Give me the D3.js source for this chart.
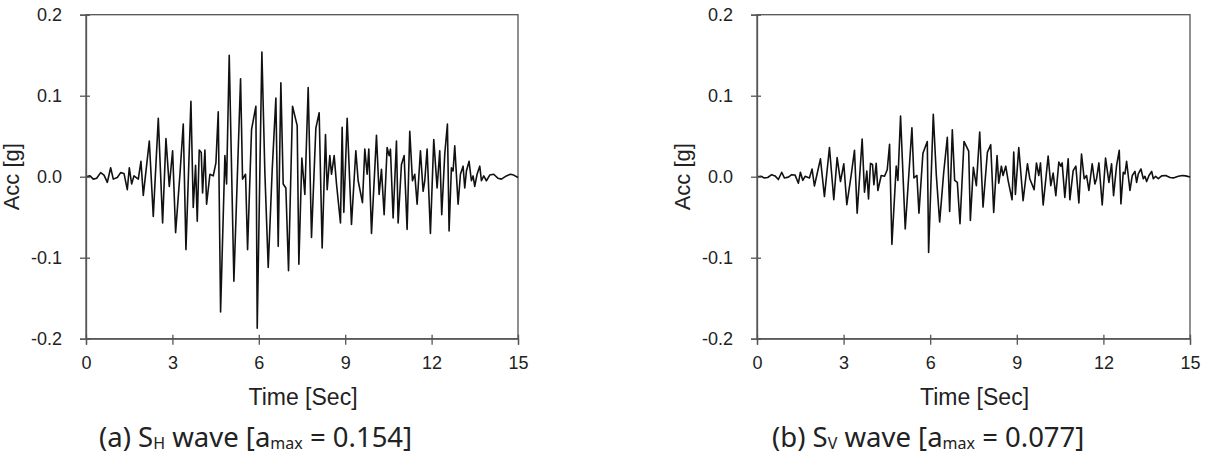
<!DOCTYPE html>
<html><head><meta charset="utf-8">
<script src="https://cdn.jsdelivr.net/npm/d3@7"></script>
<style>body{margin:0;background:#fff}svg{display:block}</style>
</head><body><svg id="c" width="1206" height="466"></svg>
<script>
const xTicks = [0, 3, 6, 9, 12, 15];
const yTicks = [-0.2, -0.1, 0.0, 0.1, 0.2];
const timeSH = [0.00,0.139,0.254,0.370,0.509,0.625,0.740,0.856,0.948,1.087,1.203,1.319,1.434,1.504,1.585,1.666,1.816,1.908,1.989,2.198,2.336,2.510,2.660,2.776,2.892,3.007,3.111,3.262,3.377,3.470,3.643,3.724,3.805,3.863,3.932,4.002,4.048,4.129,4.187,4.303,4.418,4.511,4.592,4.673,4.823,4.881,4.973,5.135,5.367,5.436,5.540,5.610,5.748,5.899,5.945,6.107,6.211,6.327,6.466,6.593,6.674,6.766,6.847,6.940,7.032,7.171,7.333,7.391,7.495,7.599,7.715,7.830,7.981,8.096,8.200,8.316,8.374,8.466,8.524,8.617,8.698,8.836,8.894,8.952,9.068,9.218,9.369,9.450,9.600,9.681,9.762,9.820,9.913,10.086,10.178,10.259,10.352,10.456,10.525,10.571,10.664,10.780,10.838,10.953,11.046,11.150,11.242,11.335,11.416,11.497,11.612,11.705,11.763,11.844,11.959,12.075,12.191,12.283,12.352,12.457,12.549,12.607,12.688,12.746,12.804,12.920,13.001,13.093,13.151,13.209,13.301,13.382,13.440,13.498,13.579,13.672,13.730,13.811,13.903,14.019,14.157,14.308,14.423,14.597,14.735,14.851,15.000];
const accSH = [0.000,0.001,-0.003,-0.002,0.005,0.002,-0.007,0.011,-0.003,-0.001,0.005,0.004,-0.016,0.011,-0.009,0.001,-0.003,0.019,-0.023,0.044,-0.049,0.072,-0.057,0.047,-0.012,0.032,-0.069,0.003,0.065,-0.090,0.093,-0.038,0.014,-0.055,0.033,0.030,-0.020,0.033,-0.034,0.003,0.001,0.017,0.080,-0.167,0.026,-0.009,0.150,-0.129,0.121,-0.003,0.003,-0.090,0.058,0.087,-0.187,0.154,0.005,-0.112,0.009,0.097,-0.086,0.116,-0.009,-0.014,-0.116,0.087,0.063,-0.108,0.023,-0.022,0.110,-0.075,0.060,0.079,-0.088,0.052,-0.016,0.026,0.003,0.026,-0.009,-0.057,0.061,-0.044,0.072,-0.059,0.032,-0.005,-0.032,0.034,0.003,0.034,-0.070,0.051,-0.022,0.009,-0.047,0.036,0.026,0.034,-0.051,0.044,-0.057,0.015,0.026,-0.065,0.056,-0.005,0.003,-0.034,0.032,-0.018,-0.005,0.034,-0.070,0.046,-0.014,0.032,-0.047,0.028,0.065,-0.067,0.011,0.007,0.038,-0.034,0.003,0.013,-0.014,0.007,0.019,-0.005,0.001,-0.012,0.003,0.013,-0.005,0.001,-0.005,0.002,0.003,-0.002,-0.003,0.001,0.003,0.002,-0.001];
const timeSV = timeSH;
const accSV = [0.0000,0.0005,-0.0015,-0.0010,0.0025,0.0010,-0.0035,0.0055,-0.0015,-0.0005,0.0025,0.0020,-0.0080,0.0055,-0.0045,0.0005,-0.0015,0.0095,-0.0115,0.0220,-0.0245,0.0360,-0.0285,0.0235,-0.0060,0.0160,-0.0345,0.0015,0.0325,-0.0450,0.0465,-0.0190,0.0070,-0.0275,0.0165,0.0150,-0.0100,0.0165,-0.0170,0.0015,0.0005,0.0085,0.0400,-0.0835,0.0130,-0.0045,0.0750,-0.0645,0.0605,-0.0015,0.0015,-0.0450,0.0290,0.0435,-0.0935,0.0770,0.0025,-0.0560,0.0045,0.0485,-0.0430,0.0580,-0.0045,-0.0070,-0.0580,0.0435,0.0315,-0.0540,0.0115,-0.0110,0.0550,-0.0375,0.0300,0.0395,-0.0440,0.0260,-0.0080,0.0130,0.0015,0.0130,-0.0045,-0.0285,0.0305,-0.0220,0.0360,-0.0295,0.0160,-0.0025,-0.0160,0.0170,0.0015,0.0170,-0.0350,0.0255,-0.0110,0.0045,-0.0235,0.0180,0.0130,0.0170,-0.0255,0.0220,-0.0285,0.0075,0.0130,-0.0325,0.0280,-0.0025,0.0015,-0.0170,0.0160,-0.0090,-0.0025,0.0170,-0.0350,0.0230,-0.0070,0.0160,-0.0235,0.0140,0.0325,-0.0335,0.0055,0.0035,0.0190,-0.0170,0.0015,0.0065,-0.0070,0.0035,0.0095,-0.0025,0.0005,-0.0060,0.0015,0.0065,-0.0025,0.0005,-0.0025,0.0010,0.0015,-0.0010,-0.0015,0.0005,0.0015,0.0010,-0.0005];
const xTitle = "Time [Sec]";
const yTitle = "Acc [g]";

const svg = d3.select("#c");
const plotTop = 14.7, plotBottom = 338.7;
const panels = [
  {x0: 86, x1: 518, t: timeSH, a: accSH, letter: "(a) S", sub: "H", amax: "0.154", capX: 99},
  {x0: 757, x1: 1190, t: timeSV, a: accSV, letter: "(b) S", sub: "V", amax: "0.077", capX: 772}
];
const tickFont = "'Liberation Sans', Arial, sans-serif";
const axisCol = "#555";
panels.forEach(p => {
  const x = d3.scaleLinear().domain([0, 15]).range([p.x0, p.x1]);
  const y = d3.scaleLinear().domain([-0.2, 0.2]).range([plotBottom, plotTop]);
  const g = svg.append("g");
  const n = Math.min(p.t.length, p.a.length);
  const pts = d3.range(n).map(i => [p.t[i], p.a[i]]);
  g.append("rect").attr("x", p.x0).attr("y", plotTop).attr("width", p.x1 - p.x0).attr("height", plotBottom - plotTop)
    .attr("fill", "none").attr("stroke", axisCol).attr("stroke-width", 1.3);
  const line = d3.line().x(d => x(d[0])).y(d => y(d[1]));
  g.append("path").datum(pts).attr("d", line).attr("fill", "none").attr("stroke", "#111")
    .attr("stroke-width", 1.6).attr("stroke-linejoin", "round");
  const ax = g.append("g").attr("transform", `translate(0,${plotBottom})`)
    .call(d3.axisBottom(x).tickValues(xTicks).tickSize(6).tickPadding(12).tickFormat(d3.format("d")));
  ax.select(".domain").attr("stroke", axisCol).attr("stroke-width", 1.3);
  ax.selectAll(".tick line").attr("y1", -4).attr("stroke", axisCol).attr("stroke-width", 1.3);
  ax.selectAll("text").attr("font-family", tickFont).attr("font-size", 18).attr("fill", "#222");
  const ay = g.append("g").attr("transform", `translate(${p.x0},0)`)
    .call(d3.axisLeft(y).tickValues(yTicks).tickSize(6).tickPadding(18));
  ay.select(".domain").attr("stroke", axisCol).attr("stroke-width", 1.3);
  ay.selectAll(".tick line").attr("x1", 4).attr("stroke", axisCol).attr("stroke-width", 1.3);
  ay.selectAll("text").attr("font-family", tickFont).attr("font-size", 18).attr("fill", "#222")
    .text(d => d3.format(".1f")(d).replace("\u2212", "-"));
  g.append("text").attr("x", (p.x0 + p.x1) / 2 + 1).attr("y", 405).attr("text-anchor", "middle")
    .attr("font-family", tickFont).attr("font-size", 23).attr("fill", "#222").text(xTitle);
  g.append("text").attr("transform", `translate(${p.x0 - 67.5},${(plotTop + plotBottom) / 2}) rotate(-90)`)
    .attr("text-anchor", "middle").attr("font-family", tickFont).attr("font-size", 22).attr("fill", "#222").text(yTitle);
  const cap = g.append("text").attr("x", p.capX).attr("y", 447)
    .attr("font-family", "'Noto Sans', 'Open Sans', sans-serif").attr("font-size", 27.5).attr("fill", "#222");
  cap.append("tspan").text(p.letter);
  cap.append("tspan").attr("font-size", 16).attr("dy", 2).text(p.sub);
  cap.append("tspan").attr("dy", -2).text(" wave [a");
  cap.append("tspan").attr("font-size", 16).attr("dy", 2).text("max");
  cap.append("tspan").attr("dy", -2).text(" = " + p.amax + "]");
});
</script></body></html>
